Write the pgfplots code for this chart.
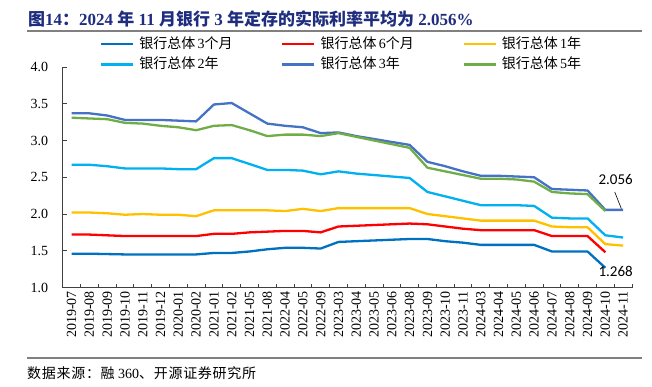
\documentclass[border=0pt]{standalone}
\usepackage{pgfplots}
\pgfplotsset{compat=1.18}
\usepackage{fontspec}
\setmainfont{Liberation Serif}
\newfontfamily\cjk{Noto Sans CJK SC}
\newfontfamily\cjkls{Noto Sans CJK SC}[LetterSpace=5]
\newfontfamily\carl{Carlito}
\definecolor{c3m}{RGB}{0,112,192}
\definecolor{c6m}{RGB}{255,0,0}
\definecolor{c1y}{RGB}{255,192,0}
\definecolor{c2y}{RGB}{0,176,240}
\definecolor{c3y}{RGB}{68,114,196}
\definecolor{c5y}{RGB}{112,173,71}
\definecolor{titlec}{RGB}{30,45,125}
\definecolor{rulegray}{RGB}{128,128,128}
\begin{document}
\begin{tikzpicture}
\path[use as bounding box] (0pt,0pt) rectangle (652pt,-387pt);
\node[anchor=base west, font=\fontsize{17}{17}\selectfont\bfseries, text=titlec, inner sep=0pt] at (28pt,-25.5pt)
 {{\cjk\bfseries 图}14{\cjk\bfseries ：}2024 {\cjk\bfseries 年} 11 {\cjk\bfseries 月银行} 3 {\cjk\bfseries 年定存的实际利率平均为} 2.056\%};
\node[anchor=base west, font=\fontsize{14}{14}\selectfont, inner sep=0pt] at (27pt,-378pt)
 {{\cjkls 数据来源：融} 360{\cjkls 、开源证券研究所}};
\begin{axis}[
  at={(62.7pt,-287.5pt)}, anchor=south west,
  scale only axis, width=569.3pt, height=220.5pt,
  xmin=-0.5, xmax=31.5, ymin=1, ymax=4,
  axis x line*=bottom, axis y line*=left,
  axis line style={black!75, line width=0.8pt},
  xtick={0,...,31},
  xticklabels={2019-07,2019-08,2019-09,2019-10,2019-11,2019-12,2020-01,2020-02,2021-01,2021-02,2021-05,2021-08,2022-04,2022-05,2022-09,2023-03,2023-04,2023-05,2023-06,2023-08,2023-09,2023-10,2023-11,2024-03,2024-04,2024-05,2024-06,2024-07,2024-08,2024-09,2024-10,2024-11},
  major x tick style={draw=none},
  minor xtick={-0.5,0.5,...,31.5},
  minor tick length=4pt, major tick length=4pt,
  tick align=inside,
  tick style={black!75, line width=0.8pt},
  ytick={1,1.5,...,4},
  /pgf/number format/assume math mode=true,
  yticklabel style={/pgf/number format/fixed, /pgf/number format/fixed zerofill, /pgf/number format/precision=1, xshift=-11pt},
  tick label style={font=\fontsize{14}{14}\selectfont},
  xticklabel style={rotate=90, anchor=east},
  clip=false,
  legend columns=3, legend cell align=left,
  legend image code/.code={\draw[#1, line width=2.3pt] (0pt,0pt) -- (32pt,0pt);},
  legend style={at={(axis description cs:0.0655,1.1356)}, anchor=north west, draw=none, fill=none,
    inner sep=0pt, outer sep=0pt, font=\fontsize{14}{14}\selectfont, row sep=6.5pt,
    nodes={inner sep=0pt, text height=11pt, text depth=3pt},
    /tikz/every odd column/.style={column sep=5pt},
    /tikz/every even column/.style={column sep=5pt}},
  every axis plot/.append style={line width=2.3pt, line join=round, mark=none},
]
\addplot[c3m] coordinates {(0,1.46)(1,1.46)(2,1.455)(3,1.45)(4,1.45)(5,1.45)(6,1.45)(7,1.45)(8,1.47)(9,1.47)(10,1.49)(11,1.52)(12,1.54)(13,1.54)(14,1.53)(15,1.62)(16,1.63)(17,1.64)(18,1.65)(19,1.66)(20,1.66)(21,1.63)(22,1.61)(23,1.58)(24,1.58)(25,1.58)(26,1.58)(27,1.49)(28,1.49)(29,1.49)(30,1.268)};
\addlegendentry{\makebox[137pt][l]{{\cjk 银行总体}\,3{\cjk 个月}}}
\addplot[c6m] coordinates {(0,1.72)(1,1.72)(2,1.71)(3,1.70)(4,1.70)(5,1.70)(6,1.70)(7,1.70)(8,1.73)(9,1.73)(10,1.75)(11,1.76)(12,1.77)(13,1.77)(14,1.75)(15,1.83)(16,1.84)(17,1.85)(18,1.86)(19,1.87)(20,1.86)(21,1.83)(22,1.80)(23,1.78)(24,1.78)(25,1.78)(26,1.78)(27,1.70)(28,1.70)(29,1.70)(30,1.48)};
\addlegendentry{\makebox[137pt][l]{{\cjk 银行总体}\,6{\cjk 个月}}}
\addplot[c1y] coordinates {(0,2.02)(1,2.02)(2,2.01)(3,1.99)(4,2.00)(5,1.99)(6,1.99)(7,1.97)(8,2.05)(9,2.05)(10,2.05)(11,2.05)(12,2.04)(13,2.07)(14,2.04)(15,2.08)(16,2.08)(17,2.08)(18,2.08)(19,2.08)(20,2.00)(21,1.97)(22,1.94)(23,1.91)(24,1.91)(25,1.91)(26,1.91)(27,1.83)(28,1.82)(29,1.82)(30,1.59)(31,1.57)};
\addlegendentry{\makebox[137pt][l]{{\cjk 银行总体}\,1{\cjk 年}}}
\addplot[c2y] coordinates {(0,2.67)(1,2.67)(2,2.65)(3,2.62)(4,2.62)(5,2.62)(6,2.61)(7,2.61)(8,2.76)(9,2.76)(10,2.68)(11,2.60)(12,2.60)(13,2.59)(14,2.54)(15,2.58)(16,2.55)(17,2.53)(18,2.51)(19,2.49)(20,2.30)(21,2.24)(22,2.18)(23,2.12)(24,2.12)(25,2.12)(26,2.11)(27,1.95)(28,1.94)(29,1.94)(30,1.71)(31,1.68)};
\addlegendentry{\makebox[137pt][l]{{\cjk 银行总体}\,2{\cjk 年}}}
\addplot[c3y] coordinates {(0,3.37)(1,3.37)(2,3.34)(3,3.28)(4,3.28)(5,3.28)(6,3.27)(7,3.26)(8,3.49)(9,3.51)(10,3.37)(11,3.23)(12,3.20)(13,3.18)(14,3.10)(15,3.11)(16,3.06)(17,3.02)(18,2.98)(19,2.94)(20,2.71)(21,2.65)(22,2.58)(23,2.52)(24,2.52)(25,2.51)(26,2.50)(27,2.34)(28,2.33)(29,2.32)(30,2.056)(31,2.056)};
\addlegendentry{\makebox[137pt][l]{{\cjk 银行总体}\,3{\cjk 年}}}
\addplot[c5y] coordinates {(0,3.31)(1,3.30)(2,3.29)(3,3.24)(4,3.23)(5,3.20)(6,3.18)(7,3.14)(8,3.20)(9,3.21)(10,3.14)(11,3.06)(12,3.08)(13,3.08)(14,3.06)(15,3.10)(16,3.05)(17,3.00)(18,2.95)(19,2.90)(20,2.63)(21,2.58)(22,2.53)(23,2.48)(24,2.48)(25,2.47)(26,2.44)(27,2.30)(28,2.28)(29,2.27)(30,2.04)};
\addlegendentry{\makebox[137pt][l]{{\cjk 银行总体}\,5{\cjk 年}}}
\node[font=\carl\fontsize{15}{15}\selectfont, inner sep=0pt] at (axis cs:30.58,2.467) {2.056};
\draw[black, line width=0.6pt] (axis cs:30.53,2.30) -- (axis cs:30.9,2.073);
\node[font=\carl\fontsize{15}{15}\selectfont, inner sep=0pt] at (axis cs:30.58,1.214) {1.268};
\draw[rulegray, line width=1.8pt] (axis description cs:-0.0627,1.1633) -- (axis description cs:1.0176,1.1633);
\draw[rulegray, line width=1.8pt] (axis description cs:-0.0627,-0.3197) -- (axis description cs:1.0176,-0.3197);
\end{axis}
\end{tikzpicture}
\end{document}
